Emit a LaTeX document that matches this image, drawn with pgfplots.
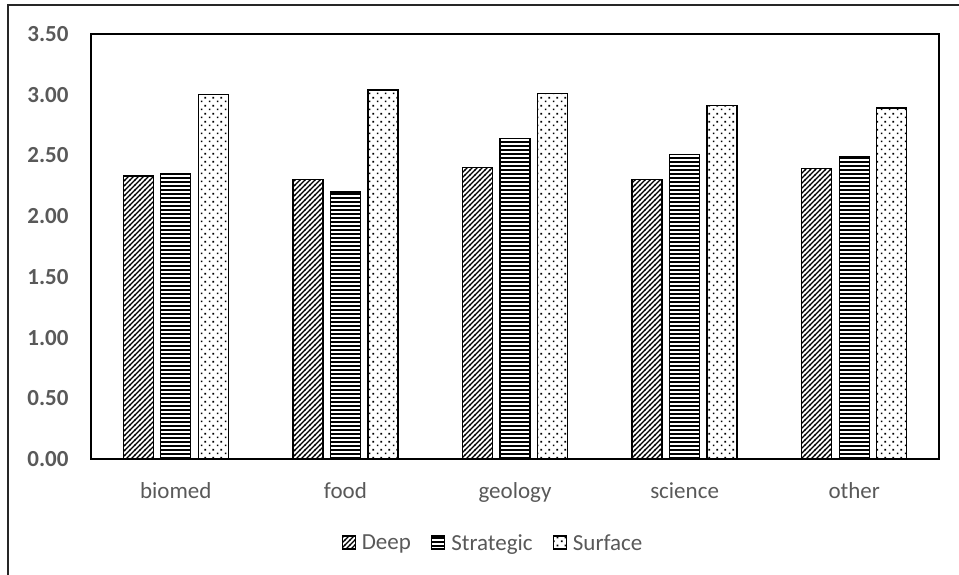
\documentclass[border=0pt]{standalone}
\usepackage{pgfplots}
\pgfplotsset{compat=1.18}
\usepackage{fontspec}
\setmainfont{Carlito}
\usetikzlibrary{patterns}
\definecolor{txtgray}{HTML}{595959}

% bar fill patterns
\pgfdeclarepatternformonly{deeplines}{\pgfqpoint{-1pt}{-1pt}}{\pgfqpoint{6pt}{6pt}}{\pgfqpoint{5pt}{5pt}}{%
  \pgfsetlinewidth{1.1pt}
  \pgfpathmoveto{\pgfqpoint{-0.5pt}{-0.5pt}}
  \pgfpathlineto{\pgfqpoint{5.5pt}{5.5pt}}
  \pgfusepath{stroke}}
\pgfdeclarepatternformonly{stratlines}{\pgfqpoint{-1pt}{0pt}}{\pgfqpoint{41pt}{4pt}}{\pgfqpoint{40pt}{4pt}}{%
  \pgfpathrectangle{\pgfqpoint{-1pt}{0pt}}{\pgfqpoint{42pt}{2pt}}
  \pgfusepath{fill}}
\pgfdeclarepatternformonly{surfdots}{\pgfqpoint{0pt}{0pt}}{\pgfqpoint{8pt}{8pt}}{\pgfqpoint{8pt}{8pt}}{%
  \pgfpathrectangle{\pgfqpoint{1pt}{1pt}}{\pgfqpoint{1.8pt}{1.8pt}}
  \pgfpathrectangle{\pgfqpoint{5pt}{5pt}}{\pgfqpoint{1.8pt}{1.8pt}}
  \pgfusepath{fill}}

\pgfplotstableread{
x Deep Strategic Surface
0 2.33 2.35 3.00
1 2.30 2.20 3.04
2 2.40 2.64 3.01
3 2.30 2.51 2.91
4 2.39 2.49 2.89
}\scores

\begin{document}
\begin{tikzpicture}[x=1pt,y=1pt]
\useasboundingbox (0,0) rectangle (959,575);
\draw[line width=1.5pt, black!85] (8,0) -- (8,570) -- (959,570);
\begin{axis}[
    at={(91pt,116pt)}, anchor=south west,
    width=848pt, height=425pt, scale only axis,
    ybar=7.5pt, bar width=30pt,
    xmin=-0.5, xmax=4.5,
    ymin=0, ymax=3.5,
    xtick=data,
    xticklabels={biomed,food,geology,science,other},
    ytick={0,0.5,1,1.5,2,2.5,3,3.5},
    yticklabel style={/pgf/number format/fixed, /pgf/number format/fixed zerofill,
        /pgf/number format/precision=2, font=\fontsize{23}{27}\selectfont\bfseries,
        text=txtgray, xshift=-19pt},
    xticklabel style={font=\fontsize{23}{27}\selectfont, text=txtgray, yshift=-20pt},
    /pgf/number format/assume math mode=true,
    major tick length=0pt,
    axis line style={line width=1.5pt},
    every axis plot/.append style={draw=black, line width=1.3pt},
    legend columns=3,
    legend style={at={(0.474,-0.198)}, anchor=center, draw=none,
        font=\fontsize{23}{27}\selectfont, text=txtgray,
        /tikz/every odd column/.append style={column sep=4pt},
        /tikz/every even column/.append style={column sep=18pt},
        nodes={inner sep=2pt}},
    legend image code/.code={\draw[#1, line width=1.3pt] (0pt,-6pt) rectangle (13pt,7pt);},
]
\addplot[pattern=deeplines] table[x=x,y=Deep] {\scores};
\addplot[pattern=stratlines] table[x=x,y=Strategic] {\scores};
\addplot[pattern=surfdots] table[x=x,y=Surface] {\scores};
\legend{Deep,Strategic,Surface}
\end{axis}
\end{tikzpicture}
\end{document}
